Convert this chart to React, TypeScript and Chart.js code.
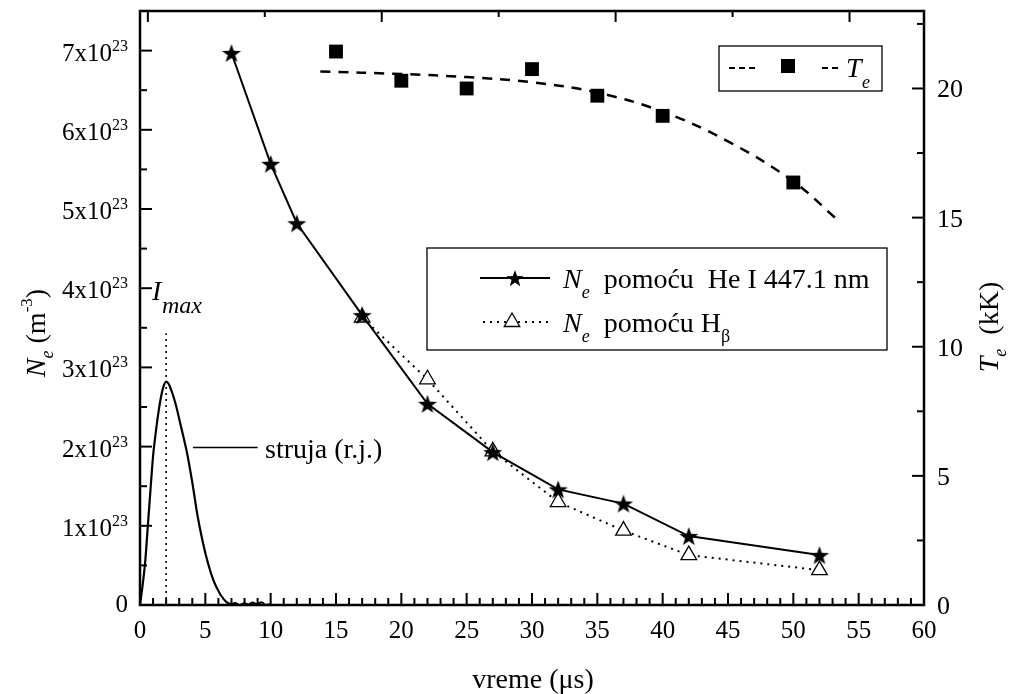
import React, { useEffect, useRef } from "react";
import { Chart, registerables } from "chart.js";

Chart.register(...registerables);

// ---- data ----
const heX = [7, 10, 12, 17, 22, 27, 32, 37, 42, 52];
const heNe = [6.97, 5.57, 4.82, 3.66, 2.54, 1.93, 1.46, 1.28, 0.87, 0.63]; // x10^23 m^-3

const hbX = [17, 22, 27, 32, 37, 42, 52];
const hbNe = [3.63, 2.85, 1.94, 1.3, 0.94, 0.63, 0.44]; // x10^23 m^-3

const teX = [15, 20, 25, 30, 35, 40, 50];
const teK = [21.43, 20.3, 20.0, 20.75, 19.72, 18.94, 16.36]; // kK

const teFitX = [13.8, 20, 25, 30, 35, 40, 45, 50, 53.3];
const teFitK = [20.66, 20.56, 20.44, 20.24, 19.84, 19.1, 17.95, 16.4, 14.95];

const pulseX = [0, 0.2, 0.4, 0.6, 0.8, 1.0, 1.2, 1.4, 1.6, 1.8, 2.0, 2.2, 2.4, 2.6, 2.8, 3.0, 3.3, 3.6, 4.0, 4.4, 4.8, 5.2, 5.6, 5.9, 6.2, 6.6, 7.0, 7.3, 7.6, 8.0, 8.3, 8.6, 9.0, 9.3, 9.6, 10.0];
const pulseY = [0, 0.25, 0.55, 1.0, 1.45, 1.88, 2.17, 2.42, 2.62, 2.76, 2.82, 2.79, 2.71, 2.61, 2.49, 2.35, 2.14, 1.92, 1.55, 1.13, 0.8, 0.53, 0.32, 0.21, 0.12, 0.04, 0.01, 0.025, 0.0, 0.02, 0.005, 0.03, 0.01, 0.035, 0.0, 0.01];

const imaxX = [2, 2];
const imaxY = [0, 3.43];

const xTicks = [0, 5, 10, 15, 20, 25, 30, 35, 40, 45, 50, 55, 60];
const yLeftTicks = [0, 1, 2, 3, 4, 5, 6, 7];
const yRightTicks = [0, 5, 10, 15, 20];
const topAxisTicks = [0.6, 9.55, 18.5, 27.45, 36.4, 45.35, 54.3];

const FONT = "'Liberation Serif', 'Times New Roman', serif";

function pts(xs: number[], ys: number[]) {
  return xs.map((x, i) => ({ x, y: ys[i] }));
}

function makeStar(outer: number, inner: number) {
  const size = Math.ceil(outer * 2 + 2);
  const c = document.createElement("canvas");
  c.width = size;
  c.height = size;
  const g = c.getContext("2d")!;
  const cx = size / 2;
  const cy = size / 2 + 1;
  g.beginPath();
  for (let i = 0; i < 10; i++) {
    const r = i % 2 === 0 ? outer : inner;
    const a = -Math.PI / 2 + (i * Math.PI) / 5;
    const px = cx + r * Math.cos(a);
    const py = cy + r * Math.sin(a);
    if (i === 0) g.moveTo(px, py);
    else g.lineTo(px, py);
  }
  g.closePath();
  g.fillStyle = "#000";
  g.fill();
  return c;
}

type Part = { t: string; size: number; italic?: boolean; dy?: number };

function drawParts(ctx: CanvasRenderingContext2D, parts: Part[], x: number, y: number, align: "left" | "center" | "right") {
  let total = 0;
  const widths = parts.map((p) => {
    ctx.font = `${p.italic ? "italic " : ""}${p.size}px ${FONT}`;
    const w = ctx.measureText(p.t).width;
    total += w;
    return w;
  });
  let cx = align === "left" ? x : align === "center" ? x - total / 2 : x - total;
  ctx.textAlign = "left";
  ctx.textBaseline = "alphabetic";
  parts.forEach((p, i) => {
    ctx.font = `${p.italic ? "italic " : ""}${p.size}px ${FONT}`;
    ctx.fillText(p.t, cx, y + (p.dy || 0));
    cx += widths[i];
  });
}

export default function App() {
  const ref = useRef<HTMLCanvasElement | null>(null);

  useEffect(() => {
    const canvas = ref.current;
    if (!canvas) return;
    const star = makeStar(10, 4);
    const legendStar = makeStar(9, 3.6);

    const decor = {
      id: "decor",
      afterDraw(chart: any) {
        const ctx: CanvasRenderingContext2D = chart.ctx;
        const { left, right, top, bottom } = chart.chartArea;
        const xs = chart.scales.x;
        const ys = chart.scales.y;
        const y2 = chart.scales.y2;
        ctx.save();
        ctx.strokeStyle = "#000";
        ctx.fillStyle = "#000";
        ctx.lineCap = "butt";

        // inward tick marks
        ctx.lineWidth = 2;
        for (let v = 0; v <= 60; v++) {
          const px = xs.getPixelForValue(v);
          const len = v % 5 === 0 ? 12 : 7;
          ctx.beginPath();
          ctx.moveTo(px, bottom);
          ctx.lineTo(px, bottom - len);
          ctx.stroke();
        }
        for (let i = 0; i <= 15; i++) {
          const v = i * 0.5;
          const py = ys.getPixelForValue(v);
          const len = i % 2 === 0 ? 12 : 7;
          ctx.beginPath();
          ctx.moveTo(left, py);
          ctx.lineTo(left + len, py);
          ctx.stroke();
        }
        for (let i = 0; i <= 9; i++) {
          const v = i * 2.5;
          const py = y2.getPixelForValue(v);
          const len = i % 2 === 0 ? 12 : 7;
          ctx.beginPath();
          ctx.moveTo(right, py);
          ctx.lineTo(right - len, py);
          ctx.stroke();
        }
        topAxisTicks.forEach((v, i) => {
          const px = xs.getPixelForValue(v);
          const len = i % 2 === 0 ? 11 : 6;
          ctx.beginPath();
          ctx.moveTo(px, top);
          ctx.lineTo(px, top + len);
          ctx.stroke();
        });

        // frame
        ctx.lineWidth = 2.5;
        ctx.strokeRect(left, top, right - left, bottom - top);

        // tick labels
        ctx.fillStyle = "#000";
        ctx.font = `25px ${FONT}`;
        ctx.textAlign = "center";
        ctx.textBaseline = "alphabetic";
        xTicks.forEach((v) => {
          ctx.fillText(String(v), xs.getPixelForValue(v), bottom + 33);
        });
        yLeftTicks.forEach((v) => {
          const py = ys.getPixelForValue(v);
          if (v === 0) {
            drawParts(ctx, [{ t: "0", size: 25 }], 128, py + 7, "right");
          } else {
            ctx.font = `16px ${FONT}`;
            const sw = ctx.measureText("23").width;
            drawParts(ctx, [{ t: `${v}x10`, size: 25 }], 128 - sw, py + 10, "right");
            drawParts(ctx, [{ t: "23", size: 16 }], 128 - sw, py, "left");
          }
        });
        yRightTicks.forEach((v) => {
          const py = y2.getPixelForValue(v);
          drawParts(ctx, [{ t: String(v), size: 26 }], right + 13, py + 9, "left");
        });

        // axis titles
        drawParts(ctx, [{ t: "vreme (\u03bcs)", size: 28 }], (left + right) / 2 + 1, 688, "center");

        ctx.save();
        ctx.translate(45, 333);
        ctx.rotate(-Math.PI / 2);
        drawParts(
          ctx,
          [
            { t: "N", size: 28, italic: true },
            { t: "e", size: 18, italic: true, dy: 8 },
            { t: " (m", size: 28 },
            { t: "-3", size: 17, dy: -13 },
            { t: ")", size: 28 },
          ],
          0,
          0,
          "center"
        );
        ctx.restore();

        ctx.save();
        ctx.translate(998, 327);
        ctx.rotate(-Math.PI / 2);
        drawParts(
          ctx,
          [
            { t: "T", size: 28, italic: true },
            { t: "e", size: 18, italic: true, dy: 8 },
            { t: "  (kK)", size: 28 },
          ],
          0,
          0,
          "center"
        );
        ctx.restore();

        // annotations
        drawParts(ctx, [{ t: "I", size: 28, italic: true }], 152, 300, "left");
        drawParts(ctx, [{ t: "max", size: 24, italic: true }], 162, 313, "left");
        ctx.lineWidth = 1.5;
        ctx.setLineDash([]);
        const sy = ys.getPixelForValue(1.99);
        ctx.beginPath();
        ctx.moveTo(xs.getPixelForValue(4.05), sy);
        ctx.lineTo(xs.getPixelForValue(9.0), sy);
        ctx.stroke();
        drawParts(ctx, [{ t: "struja (r.j.)", size: 28 }], 265, 458, "left");

        // legend 1 (Te)
        ctx.fillStyle = "#fff";
        ctx.fillRect(719, 46, 163, 45);
        ctx.lineWidth = 1.3;
        ctx.strokeRect(719, 46, 163, 45);
        ctx.fillStyle = "#000";
        ctx.lineWidth = 2;
        ctx.setLineDash([6, 4]);
        ctx.beginPath();
        ctx.moveTo(729, 68);
        ctx.lineTo(755, 68);
        ctx.stroke();
        ctx.beginPath();
        ctx.moveTo(822, 68);
        ctx.lineTo(838, 68);
        ctx.stroke();
        ctx.setLineDash([]);
        ctx.fillRect(781, 59, 14, 14);
        drawParts(ctx, [{ t: "T", size: 28, italic: true }], 846, 77, "left");
        drawParts(ctx, [{ t: "e", size: 18, italic: true }], 862, 88, "left");

        // legend 2 (Ne)
        ctx.fillStyle = "#fff";
        ctx.fillRect(427, 248, 460, 102);
        ctx.lineWidth = 1.3;
        ctx.strokeRect(427, 248, 460, 102);
        ctx.fillStyle = "#000";
        ctx.lineWidth = 2;
        ctx.beginPath();
        ctx.moveTo(480, 278);
        ctx.lineTo(550, 278);
        ctx.stroke();
        ctx.drawImage(legendStar, 515 - legendStar.width / 2, 278 - legendStar.height / 2);
        drawParts(
          ctx,
          [
            { t: "N", size: 28, italic: true },
            { t: "e", size: 18, italic: true, dy: 10 },
            { t: "  pomo\u0107u  He I 447.1 nm", size: 28 },
          ],
          563,
          288,
          "left"
        );
        ctx.setLineDash([2, 5]);
        ctx.beginPath();
        ctx.moveTo(483, 322);
        ctx.lineTo(548, 322);
        ctx.stroke();
        ctx.setLineDash([]);
        ctx.beginPath();
        const tr = 9;
        ctx.moveTo(512, 322 - tr);
        ctx.lineTo(512 + tr * 0.866, 322 + tr * 0.5);
        ctx.lineTo(512 - tr * 0.866, 322 + tr * 0.5);
        ctx.closePath();
        ctx.fillStyle = "#fff";
        ctx.fill();
        ctx.lineWidth = 1.3;
        ctx.stroke();
        ctx.fillStyle = "#000";
        drawParts(
          ctx,
          [
            { t: "N", size: 28, italic: true },
            { t: "e", size: 18, italic: true, dy: 10 },
            { t: "  pomo\u0107u H", size: 28 },
            { t: "\u03b2", size: 18, dy: 10 },
          ],
          563,
          332,
          "left"
        );

        ctx.restore();
      },
    };

    const chart = new Chart(canvas, {
      type: "line",
      data: {
        datasets: [
          {
            label: "struja",
            data: pts(pulseX, pulseY),
            borderColor: "#000",
            borderWidth: 2.2,
            pointRadius: 0,
            cubicInterpolationMode: "monotone",
            yAxisID: "y",
          },
          {
            label: "Imax",
            data: pts(imaxX, imaxY),
            borderColor: "#000",
            borderWidth: 1.6,
            borderDash: [2, 4],
            pointRadius: 0,
            yAxisID: "y",
          },
          {
            label: "He I 447.1 nm",
            data: pts(heX, heNe),
            borderColor: "#000",
            borderWidth: 2,
            pointStyle: star as any,
            pointRadius: 9,
            yAxisID: "y",
          },
          {
            label: "Hbeta",
            data: pts(hbX, hbNe),
            borderColor: "#000",
            borderWidth: 2,
            borderDash: [2, 5],
            pointStyle: "triangle",
            pointRadius: 9,
            pointBackgroundColor: "#fff",
            pointBorderColor: "#000",
            pointBorderWidth: 1.3,
            yAxisID: "y",
          },
          {
            label: "Te fit",
            data: pts(teFitX, teFitK),
            borderColor: "#000",
            borderWidth: 2.5,
            borderDash: [10, 8],
            pointRadius: 0,
            tension: 0.4,
            yAxisID: "y2",
          },
          {
            label: "Te",
            data: pts(teX, teK),
            showLine: false,
            pointStyle: "rect",
            pointRadius: 9.8,
            pointBackgroundColor: "#000",
            pointBorderColor: "#000",
            pointBorderWidth: 0,
            yAxisID: "y2",
          },
        ],
      },
      options: {
        responsive: false,
        animation: false,
        devicePixelRatio: 1,
        layout: { padding: { left: 140, right: 91, top: 9, bottom: 89 } },
        plugins: { legend: { display: false }, tooltip: { enabled: false } },
        scales: {
          x: { type: "linear", min: 0, max: 60, display: false },
          y: { type: "linear", min: 0, max: 7.5, display: false },
          y2: { type: "linear", min: 0, max: 23, display: false, position: "right" },
        },
      },
      plugins: [decor],
    } as any);

    return () => chart.destroy();
  }, []);

  return (
    <div style={{ position: "fixed", left: 0, top: 0, width: 1015, height: 694, background: "#fff" }}>
      <canvas ref={ref} width={1015} height={694} style={{ display: "block" }} />
    </div>
  );
}
